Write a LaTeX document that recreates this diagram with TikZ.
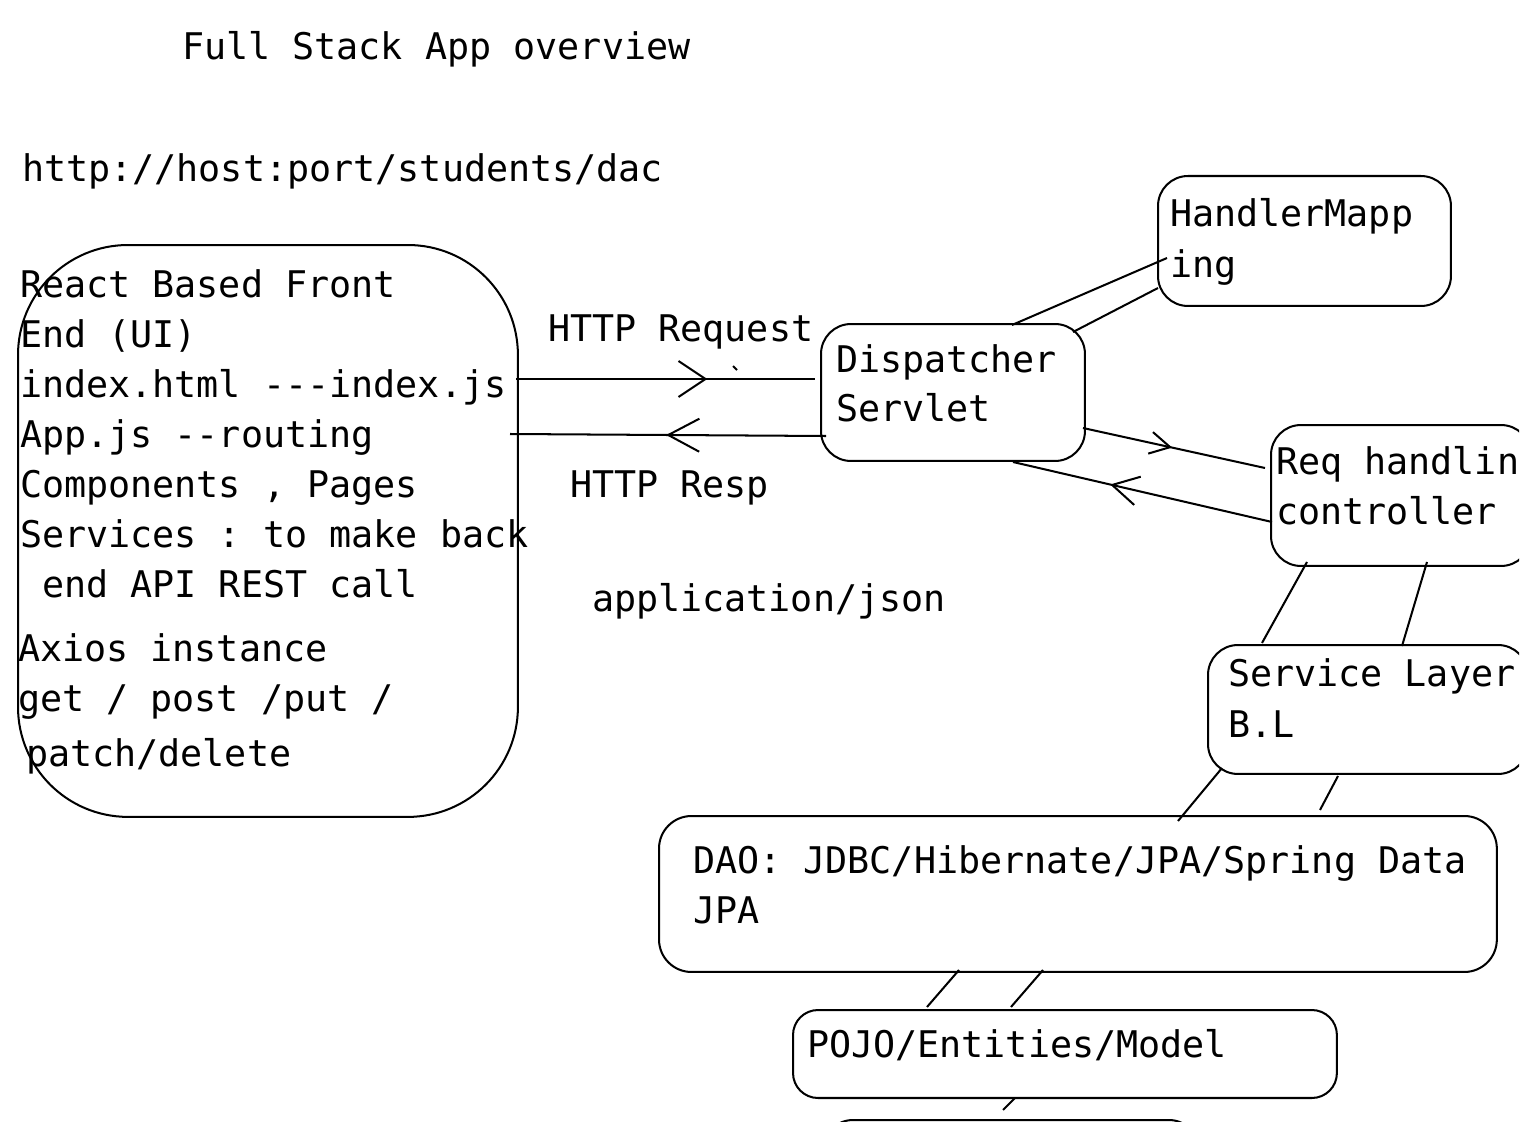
\documentclass[tikz,border=0pt]{standalone}
\usepackage{fontspec}
\setmonofont{DejaVu Sans Mono}
\usetikzlibrary{arrows.meta,decorations.markings}

\tikzset{
  box/.style={draw, rounded corners=#1, anchor=north west, inner sep=0pt},
  box/.default=0.6cm,
  txt/.style={anchor=base west, inner sep=0pt, font=\ttfamily\fontsize{20.9}{28}\selectfont},
  barb/.style n args={3}{postaction={decorate},
    decoration={markings, mark=at position #1 with {\arrow{Straight Barb[length=#2, width=#3]}}}},
}

\begin{document}
\begin{tikzpicture}[x=0.02cm, y=-0.02cm, line width=1.15pt]
  \useasboundingbox (0,0) rectangle (1536,1122);
  \clip (0,0) rectangle (1519,1122);

  % boxes
  \node[box=2.2cm, minimum width=10cm, minimum height=11.44cm] (react) at (17,244) {};
  \node[box, minimum width=5.28cm, minimum height=2.74cm] (disp) at (820,323) {};
  \node[box, minimum width=5.86cm, minimum height=2.6cm] (hm) at (1157,175) {};
  \node[box, minimum width=5.2cm, minimum height=2.82cm] (ctrl) at (1270,424) {};
  \node[box, minimum width=6.4cm, minimum height=2.58cm] (svc) at (1207,644) {};
  \node[box=0.65cm, minimum width=16.76cm, minimum height=3.12cm] (dao) at (658,815) {};
  \node[box=0.5cm, minimum width=10.88cm, minimum height=1.76cm] (pojo) at (792,1009) {};
  \node[box, minimum width=7.52cm, minimum height=2cm] (db) at (822,1119) {};

  % texts
  \node[txt] (title) at (181,60) {Full Stack App overview};
  \node[txt] (url) at (21,182) {http://host:port/students/dac};
  \node[txt] (r1) at (19,297) {React Based Front};
  \node[txt] (r2) at (19,347) {End (UI)};
  \node[txt] (r3) at (19,397) {index.html ---index.js};
  \node[txt] (r4) at (19,447) {App.js --routing};
  \node[txt] (r5) at (19,497) {Components , Pages};
  \node[txt] (r6) at (19,547) {Services : to make back};
  \node[txt] (r7) at (19,597) {~end API REST call};
  \node[txt] (r8) at (17,661) {Axios instance};
  \node[txt] (r9) at (17,711) {get / post /put /};
  \node[txt] (r10) at (25,766) {patch/delete};
  \node[txt] (reqlbl) at (547,341) {HTTP Request};
  \node[txt] (resplbl) at (569,497) {HTTP Resp};
  \node[txt] (json) at (591,611) {application/json};
  \node[txt] (d1) at (835,372) {Dispatcher};
  \node[txt] (d2) at (835,421) {Servlet};
  \node[txt] (h1) at (1169,227) {HandlerMapp};
  \node[txt] (h2) at (1169,277) {ing};
  \node[txt] (c1) at (1275,474) {Req handlin};
  \node[txt] (c2) at (1275,524) {controller};
  \node[txt] (s1) at (1227,686) {Service Layer};
  \node[txt] (s2) at (1227,737) {B.L};
  \node[txt] (a1) at (692,873) {DAO: JDBC/Hibernate/JPA/Spring Data};
  \node[txt] (a2) at (692,923) {JPA};
  \node[txt] (p1) at (806,1057) {POJO/Entities/Model};

  % request / response
  \draw[barb={0.64}{0.54cm}{0.72cm}] ([shift={(499,135)}]react.north west) -- ([shift={(-5,56)}]disp.north west);
  \draw (733,366) -- (737,370);
  \draw[barb={0.506}{0.62cm}{0.66cm}] ([shift={(6,113)}]disp.north west) -- ([shift={(493,190)}]react.north west);

  % dispatcher links
  \draw ([shift={(192,2)}]disp.north west) -- ([shift={(10,83)}]hm.north west);
  \draw ([shift={(253,9)}]disp.north west) -- ([shift={(1,113)}]hm.north west);
  \draw[barb={0.49}{0.4cm}{0.44cm}] ([shift={(263,105)}]disp.north west) -- ([shift={(-5,44)}]ctrl.north west);
  \draw[barb={0.625}{0.52cm}{0.58cm}] ([shift={(2,98)}]ctrl.north west) -- ([shift={(193,139)}]disp.north west);

  % layers
  \draw ([shift={(37,138)}]ctrl.north west) -- ([shift={(55,-1)}]svc.north west);
  \draw ([shift={(157,138)}]ctrl.north west) -- ([shift={(195,2)}]svc.north west);
  \draw ([shift={(15,124)}]svc.north west) -- ([shift={(520,6)}]dao.north west);
  \draw ([shift={(131,132)}]svc.north west) -- ([shift={(662,-5)}]dao.north west);
  \draw ([shift={(301,155)}]dao.north west) -- ([shift={(135,-2)}]pojo.north west);
  \draw ([shift={(385,155)}]dao.north west) -- ([shift={(219,-2)}]pojo.north west);
  \draw ([shift={(223,89)}]pojo.north west) -- ([shift={(181,-9)}]db.north west);
\end{tikzpicture}
\end{document}
